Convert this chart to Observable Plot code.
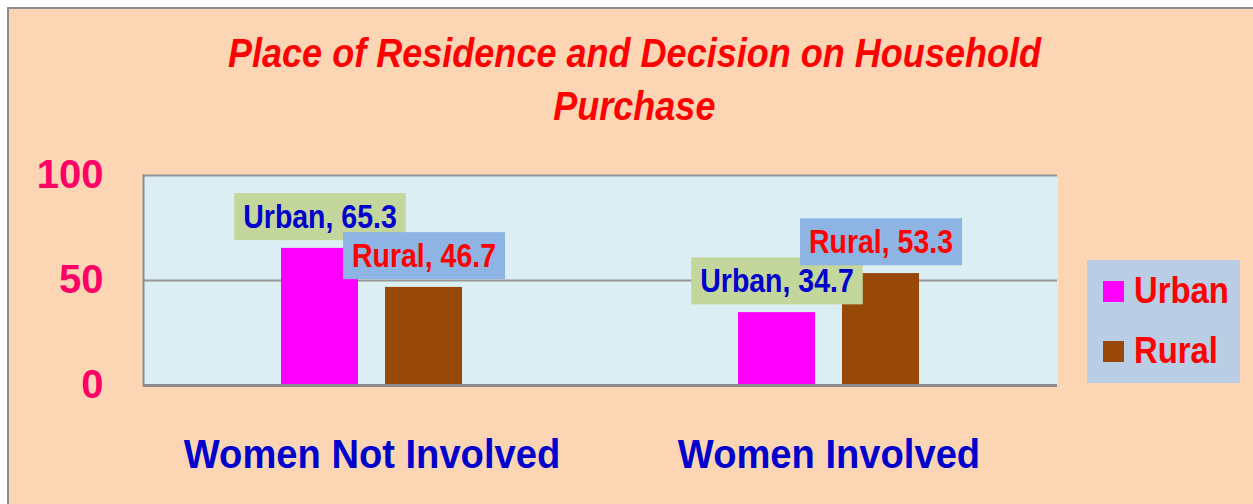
<!DOCTYPE html>
<html>
<head>
<meta charset="utf-8">
<script src="https://cdn.jsdelivr.net/npm/d3@7"></script>
<script src="https://cdn.jsdelivr.net/npm/@observablehq/plot@0.6"></script>
<style>
  html, body { margin: 0; padding: 0; width: 1253px; height: 504px; overflow: hidden; background: #fff; }
  #page { position: absolute; left: 7px; top: 7px; width: 1270px; height: 520px; background: #FCD5B4; border: 2px solid #8c8c8c; }
  #chart { position: absolute; left: 0; top: 0; }
  .tline { position: absolute; left: 0; width: 1268px; text-align: center; color: #FF0000; white-space: nowrap;
    font-family: 'Liberation Sans', Arial, sans-serif; font-weight: bold; font-style: italic; font-size: 41px; line-height: 50px; }
  .tline span { display: inline-block; transform: scaleX(0.879); transform-origin: center; }
  #legend { position: absolute; left: 1087px; top: 260px; width: 153px; height: 123px; background: #B9CDE5; }
  .item { position: absolute; left: 16px; height: 40px; display: flex; align-items: center; color: #FF0000; white-space: nowrap;
    font-family: 'Liberation Sans', Arial, sans-serif; font-weight: bold; font-size: 37px; }
  .item span { display: inline-block; transform: scaleX(0.887); transform-origin: left center; }
  .sw { width: 21px; height: 21px; margin-right: 10px; }
</style>
</head>
<body>
<div id="page"></div>
<div class="tline" style="top:28px"><span>Place of Residence and Decision on Household</span></div>
<div class="tline" style="top:81px"><span>Purchase</span></div>
<div id="chart"></div>
<div id="legend"></div>
<script>
const groups = ["Women Not Involved", "Women Involved"];
const series = ["Urban", "Rural"];
const urbanValues = [65.3, 34.7];
const ruralValues = [46.7, 53.3];
const yTicks = [0, 50, 100];
const seriesColors = ["#FF00FF", "#984807"];
const labelTextColors = ["#0000CC", "#FF0000"];
const labelBoxColors = ["#C3D69B", "#8EB4E3"];

const data = groups.flatMap((g, i) => [
  {group: g, series: "Urban", value: urbanValues[i]},
  {group: g, series: "Rural", value: ruralValues[i]}
]);

const sans = "'Liberation Sans', Arial, sans-serif";

const chart = Plot.plot({
  width: 1253, height: 504,
  marginLeft: 142, marginRight: 196, marginTop: 175, marginBottom: 119,
  style: {background: "transparent", overflow: "visible"},
  fx: {domain: groups, paddingInner: 0, paddingOuter: 0, axis: null},
  x: {domain: series, paddingInner: 0.257, paddingOuter: 1.307, axis: null},
  y: {domain: [0, 100], axis: null},
  color: {domain: series, range: seriesColors},
  marks: [
    Plot.frame({fill: "#DBEEF4", stroke: null, shapeRendering: "crispEdges"}),
    Plot.ruleY(yTicks.filter(d => d > 0), {stroke: "#969696", strokeWidth: 2}),
    Plot.frame({anchor: "left", facetAnchor: "left", stroke: "#8c8c8c", strokeWidth: 2}),
    Plot.axisY({ticks: yTicks, tickSize: 0, tickPadding: 40, fontSize: 40, fontWeight: "bold", label: null,
      fontFamily: sans, fill: "#FF0066", facetAnchor: "left"}),
    Plot.barY(data, {fx: "group", x: "series", y: "value", fill: "series"}),
    Plot.ruleY([0], {stroke: "#8c8c8c", strokeWidth: 3}),
    Plot.text(groups, {fx: d => d, frameAnchor: "bottom", dy: 69, text: d => d, fontSize: 41,
      fontWeight: "bold", fontFamily: sans, fill: "#0000CC", lineAnchor: "middle", className: "fxlabel"}),
    Plot.text(data, {fx: "group", x: "series", y: "value", dy: -31,
      text: d => `${d.series}, ${d.value}`, fontSize: 33.5, fontWeight: "bold", fontFamily: sans,
      fill: d => labelTextColors[series.indexOf(d.series)], lineAnchor: "middle", className: "vlabel"})
  ]
});
document.getElementById("chart").appendChild(chart);

function condense(t, f) {
  const len = t.getComputedTextLength() * f;
  t.setAttribute("textLength", len);
  t.setAttribute("lengthAdjust", "spacingAndGlyphs");
  return len;
}
chart.querySelectorAll(".fxlabel text").forEach(t => condense(t, 0.93));

// label background boxes
chart.querySelectorAll(".vlabel text").forEach(t => {
  const len = condense(t, 0.85);
  const b = t.getBBox();
  const fill = (t.getAttribute("fill") || "").toLowerCase();
  const idx = labelTextColors.findIndex(c => c.toLowerCase() === fill);
  const r = document.createElementNS("http://www.w3.org/2000/svg", "rect");
  r.setAttribute("x", -len / 2 - 9);
  r.setAttribute("y", b.y - 5);
  r.setAttribute("width", len + 18);
  r.setAttribute("height", b.height + 10);
  r.setAttribute("fill", labelBoxColors[idx >= 0 ? idx : 0]);
  if (t.getAttribute("transform")) r.setAttribute("transform", t.getAttribute("transform"));
  t.parentNode.insertBefore(r, t);
});

// legend
const legend = document.getElementById("legend");
series.forEach((s, i) => {
  const it = document.createElement("div");
  it.className = "item";
  it.style.top = (i === 0 ? 11 : 71) + "px";
  const sw = document.createElement("div");
  sw.className = "sw";
  sw.style.background = seriesColors[i];
  const sp = document.createElement("span");
  sp.textContent = s;
  it.appendChild(sw);
  it.appendChild(sp);
  legend.appendChild(it);
});
</script>
</body>
</html>
